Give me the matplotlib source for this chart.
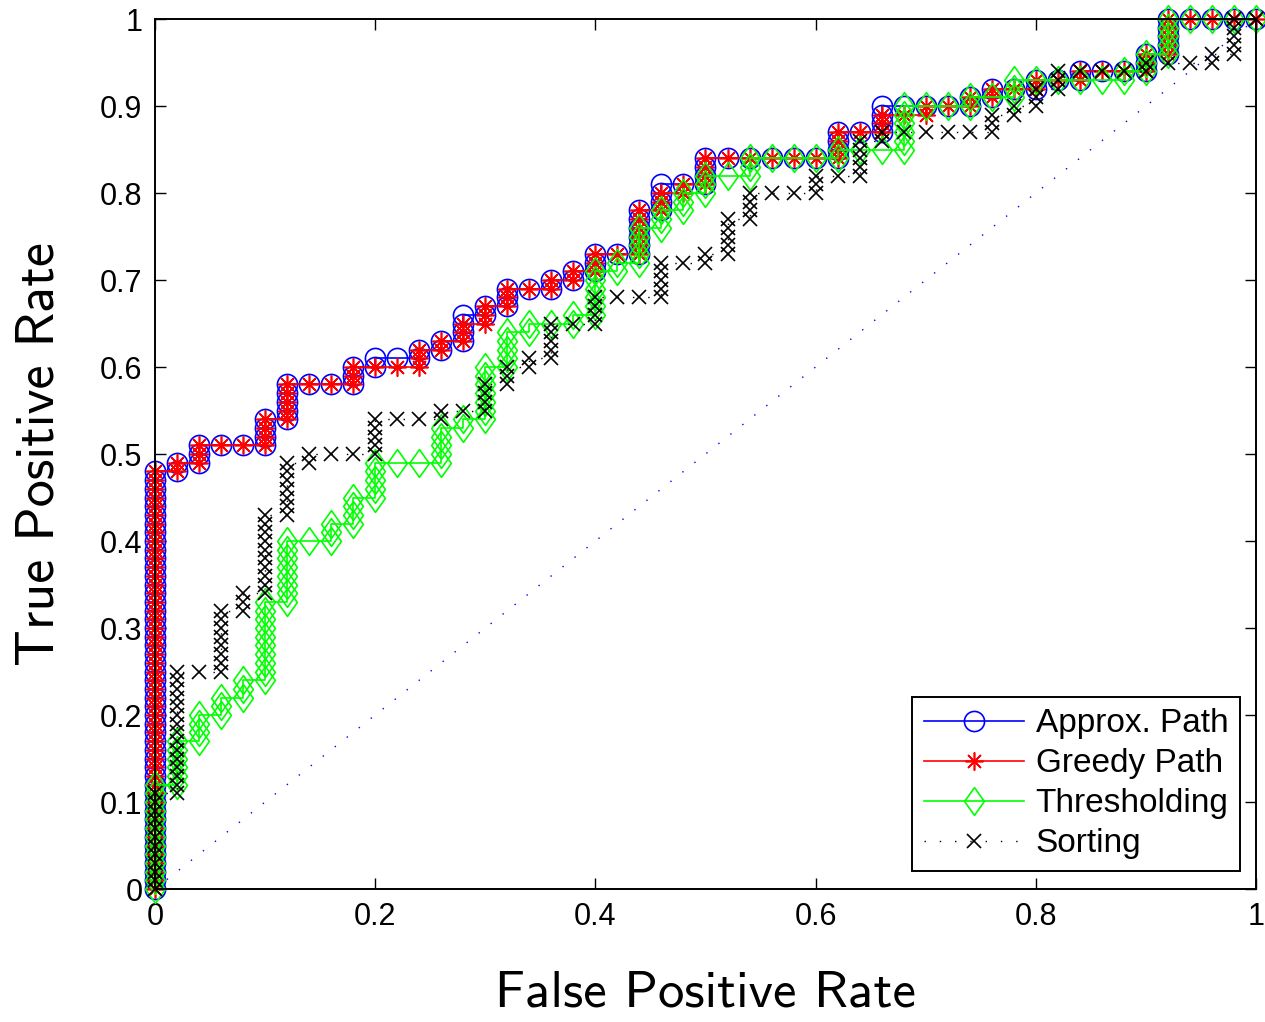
import numpy as np
import matplotlib.pyplot as plt
from matplotlib.path import Path

# ROC data: false positive rate columns (50 negatives -> steps of 0.02)
fpr_cols = [0.00, 0.02, 0.04, 0.06, 0.08, 0.10, 0.12, 0.14, 0.16, 0.18,
            0.20, 0.22, 0.24, 0.26, 0.28, 0.30, 0.32, 0.34, 0.36, 0.38,
            0.40, 0.42, 0.44, 0.46, 0.48, 0.50, 0.52, 0.54, 0.56, 0.58,
            0.60, 0.62, 0.64, 0.66, 0.68, 0.70, 0.72, 0.74, 0.76, 0.78,
            0.80, 0.82, 0.84, 0.86, 0.88, 0.90, 0.92, 0.94, 0.96, 0.98, 1.00]

# true positive rate reached at the top of each fpr column
approx_top = [0.48, 0.49, 0.51, 0.51, 0.51, 0.54, 0.58, 0.58, 0.58, 0.60,
              0.61, 0.61, 0.62, 0.63, 0.66, 0.67, 0.69, 0.69, 0.70, 0.71,
              0.73, 0.73, 0.78, 0.81, 0.81, 0.84, 0.84, 0.84, 0.84, 0.84,
              0.84, 0.87, 0.87, 0.90, 0.90, 0.90, 0.90, 0.91, 0.92, 0.92,
              0.93, 0.93, 0.94, 0.94, 0.94, 0.96, 1.00, 1.00, 1.00, 1.00, 1.00]
greedy_top = [0.48, 0.49, 0.51, 0.51, 0.51, 0.54, 0.58, 0.58, 0.58, 0.60,
              0.60, 0.60, 0.62, 0.63, 0.65, 0.67, 0.69, 0.69, 0.70, 0.71,
              0.73, 0.73, 0.78, 0.80, 0.81, 0.84, 0.84, 0.84, 0.84, 0.84,
              0.84, 0.87, 0.87, 0.89, 0.89, 0.90, 0.90, 0.91, 0.92, 0.92,
              0.93, 0.93, 0.94, 0.94, 0.94, 0.96, 1.00, 1.00, 1.00, 1.00, 1.00]
thresh_top = [0.12, 0.17, 0.20, 0.22, 0.24, 0.33, 0.40, 0.40, 0.42, 0.45,
              0.49, 0.49, 0.49, 0.53, 0.54, 0.60, 0.64, 0.65, 0.65, 0.66,
              0.71, 0.72, 0.76, 0.78, 0.80, 0.82, 0.82, 0.84, 0.84, 0.84,
              0.84, 0.85, 0.85, 0.85, 0.90, 0.90, 0.90, 0.91, 0.91, 0.93,
              0.93, 0.93, 0.93, 0.93, 0.94, 0.96, 1.00, 1.00, 1.00, 1.00, 1.00]
sort_top = [0.11, 0.25, 0.25, 0.32, 0.34, 0.43, 0.49, 0.50, 0.50, 0.50,
            0.54, 0.54, 0.54, 0.55, 0.55, 0.58, 0.60, 0.61, 0.65, 0.65,
            0.68, 0.68, 0.68, 0.72, 0.72, 0.73, 0.77, 0.80, 0.80, 0.80,
            0.82, 0.82, 0.86, 0.87, 0.87, 0.87, 0.87, 0.87, 0.89, 0.90,
            0.92, 0.94, 0.94, 0.94, 0.94, 0.95, 0.95, 0.95, 0.96, 1.00, 1.00]

labels = ['Approx. Path', 'Greedy Path', 'Thresholding', 'Sorting']
x_ticks = [0, 0.2, 0.4, 0.6, 0.8, 1]
x_ticklabels = ['0', '0.2', '0.4', '0.6', '0.8', '1']
y_ticks = [0, 0.1, 0.2, 0.3, 0.4, 0.5, 0.6, 0.7, 0.8, 0.9, 1]
y_ticklabels = ['0', '0.1', '0.2', '0.3', '0.4', '0.5', '0.6', '0.7', '0.8', '0.9', '1']


def roc_points(tops):
    # one point per positive sample (tpr step 0.01) inside every fpr column
    xs, ys = [], []
    prev = 0.0
    for f, top in zip(fpr_cols, tops):
        n = int(round((top - prev) / 0.01))
        for k in range(n + 1):
            xs.append(f)
            ys.append(prev + 0.01 * k)
        prev = top
    return xs, ys


plt.rcParams['font.family'] = ['Liberation Sans', 'DejaVu Sans']

diamond = Path([(0, 1), (0.71, 0), (0, -1), (-0.71, 0), (0, 1)],
               [Path.MOVETO, Path.LINETO, Path.LINETO, Path.LINETO, Path.CLOSEPOLY])
dots = (0, (1, 10))

fig = plt.figure(figsize=(12.65, 10.22), dpi=100)
ax = fig.add_axes([0.1225, 0.1301, 0.8704, 0.8513])

x, y = roc_points(approx_top)
ax.plot(x, y, color='#0000ff', lw=1.2, marker='o', ms=14.5, mfc='none',
        mec='#0000ff', mew=1.2, label=labels[0], clip_on=False)
x, y = roc_points(greedy_top)
ax.plot(x, y, color='#ff0000', lw=1.2, marker=(8, 2, 0), ms=13,
        mec='#ff0000', mew=1.2, label=labels[1], clip_on=False)
x, y = roc_points(thresh_top)
ax.plot(x, y, color='#00ff00', lw=1.2, marker=diamond, ms=20, mfc='none',
        mec='#00ff00', mew=1.2, label=labels[2], clip_on=False)
x, y = roc_points(sort_top)
ax.plot(x, y, color='black', lw=1.0, ls=dots, marker='x', ms=10,
        mec='black', mew=1.2, label=labels[3], clip_on=False)
# chance diagonal
ax.plot([0, 1], [0, 1], color='#0000ff', lw=1.0, ls=dots)

ax.set_xlim(0, 1)
ax.set_ylim(0, 1)
ax.set_xticks(x_ticks)
ax.set_xticklabels(x_ticklabels)
ax.set_yticks(y_ticks)
ax.set_yticklabels(y_ticklabels)
ax.tick_params(direction='in', length=8, width=1, labelsize=22,
               top=True, right=True, pad=9)
for s in ax.spines.values():
    s.set_linewidth(1.4)

ax.set_xlabel('False Positive Rate', fontsize=38, family='cmss10')
ax.set_ylabel('True Positive Rate', fontsize=39, family='cmss10')
ax.xaxis.set_label_coords(0.5, -0.094)
ax.yaxis.set_label_coords(-0.082, 0.5)

leg = ax.legend(loc='lower right', bbox_to_anchor=(0.9855, 0.0207),
                borderaxespad=0, fontsize=24, fancybox=False, framealpha=1,
                edgecolor='black', handlelength=3.0, handletextpad=0.36,
                labelspacing=0.27, borderpad=0.35, numpoints=1)
leg.get_frame().set_linewidth(1.4)

fig.savefig('out.png', dpi=100)
